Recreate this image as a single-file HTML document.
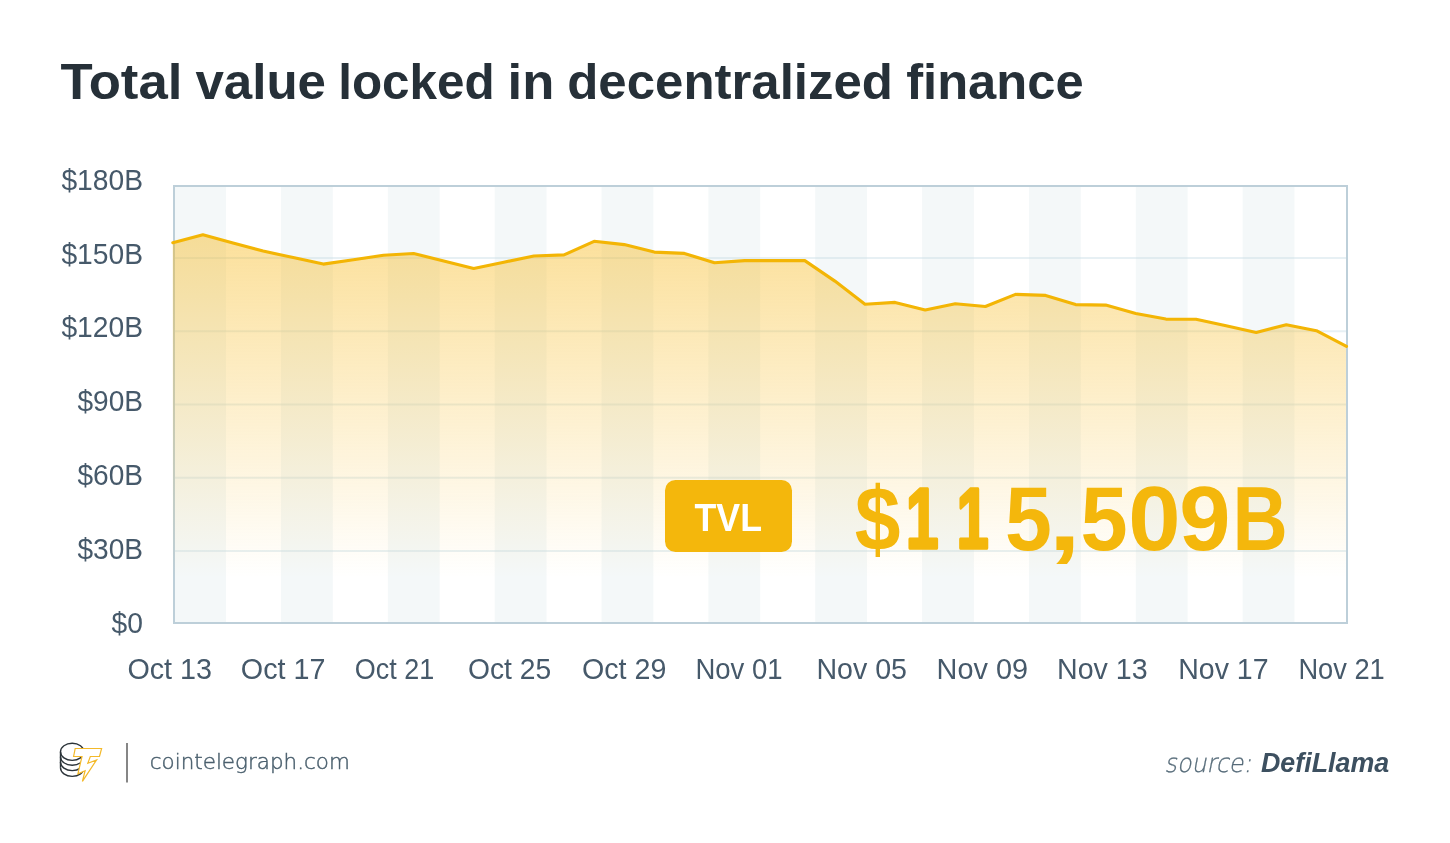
<!DOCTYPE html>
<html><head><meta charset="utf-8"><title>Total value locked in decentralized finance</title>
<style>
html,body{margin:0;padding:0;background:#ffffff;}
body{width:1450px;height:843px;overflow:hidden;position:relative;font-family:"Liberation Sans",Arial,sans-serif;}
svg{position:absolute;left:0;top:0;will-change:transform;}
</style></head><body>
<svg width="1450" height="843" viewBox="0 0 1450 843">
<defs>
<linearGradient id="fg" gradientUnits="userSpaceOnUse" x1="0" y1="186" x2="0" y2="578">
<stop offset="0" stop-color="#f7b81a" stop-opacity="0.5"/>
<stop offset="1" stop-color="#f7b81a" stop-opacity="0"/>
</linearGradient>
</defs>
<g font-family="Liberation Sans, Arial, sans-serif" font-weight="bold" font-size="50" fill="#263038"><text x="60.4" y="99" textLength="122.0" lengthAdjust="spacingAndGlyphs">Total</text> <text x="195.4" y="99" textLength="130.6" lengthAdjust="spacingAndGlyphs">value</text> <text x="338.2" y="99" textLength="156.6" lengthAdjust="spacingAndGlyphs">locked</text> <text x="507.6" y="99" textLength="46.8" lengthAdjust="spacingAndGlyphs">in</text> <text x="567.2" y="99" textLength="325.8" lengthAdjust="spacingAndGlyphs">decentralized</text> <text x="906.2" y="99" textLength="177.4" lengthAdjust="spacingAndGlyphs">finance</text></g>
<g><rect x="174.15" y="186" width="51.8" height="437" fill="#f4f8f9"/><rect x="281.00" y="186" width="51.8" height="437" fill="#f4f8f9"/><rect x="387.85" y="186" width="51.8" height="437" fill="#f4f8f9"/><rect x="494.70" y="186" width="51.8" height="437" fill="#f4f8f9"/><rect x="601.55" y="186" width="51.8" height="437" fill="#f4f8f9"/><rect x="708.40" y="186" width="51.8" height="437" fill="#f4f8f9"/><rect x="815.25" y="186" width="51.8" height="437" fill="#f4f8f9"/><rect x="922.10" y="186" width="51.8" height="437" fill="#f4f8f9"/><rect x="1028.95" y="186" width="51.8" height="437" fill="#f4f8f9"/><rect x="1135.80" y="186" width="51.8" height="437" fill="#f4f8f9"/><rect x="1242.65" y="186" width="51.8" height="437" fill="#f4f8f9"/></g>
<g><rect x="174" y="257.00" width="1173" height="2" fill="rgba(198,219,228,0.42)"/><rect x="174" y="330.25" width="1173" height="2" fill="rgba(198,219,228,0.42)"/><rect x="174" y="403.50" width="1173" height="2" fill="rgba(198,219,228,0.42)"/><rect x="174" y="476.75" width="1173" height="2" fill="rgba(198,219,228,0.42)"/><rect x="174" y="550.00" width="1173" height="2" fill="rgba(198,219,228,0.42)"/></g>
<rect x="174" y="186" width="1173" height="437" fill="none" stroke="#bdcfd9" stroke-width="2"/>
<path d="M172.8,623 L172.8,242.7 L202.9,234.7 L233.0,242.9 L263.1,251.1 L293.2,257.6 L323.3,264.1 L353.4,259.7 L383.5,255.3 L413.6,253.5 L443.7,260.9 L473.7,268.4 L503.8,262.2 L533.9,256.0 L564.0,254.9 L594.1,241.3 L624.2,244.6 L654.3,252.1 L684.4,253.4 L714.5,262.7 L744.6,260.6 L774.7,260.6 L804.8,260.6 L834.9,281.1 L865.0,304.2 L895.1,302.4 L925.2,309.9 L955.3,303.8 L985.4,306.5 L1015.5,294.4 L1045.6,295.4 L1075.6,304.6 L1105.7,305.1 L1135.8,313.4 L1165.9,319.1 L1196.0,319.2 L1226.1,325.8 L1256.2,332.4 L1286.3,324.7 L1316.4,330.7 L1346.0,346.0 L1346.0,623 Z" fill="url(#fg)"/>
<polyline points="172.8,242.7 202.9,234.7 233.0,242.9 263.1,251.1 293.2,257.6 323.3,264.1 353.4,259.7 383.5,255.3 413.6,253.5 443.7,260.9 473.7,268.4 503.8,262.2 533.9,256.0 564.0,254.9 594.1,241.3 624.2,244.6 654.3,252.1 684.4,253.4 714.5,262.7 744.6,260.6 774.7,260.6 804.8,260.6 834.9,281.1 865.0,304.2 895.1,302.4 925.2,309.9 955.3,303.8 985.4,306.5 1015.5,294.4 1045.6,295.4 1075.6,304.6 1105.7,305.1 1135.8,313.4 1165.9,319.1 1196.0,319.2 1226.1,325.8 1256.2,332.4 1286.3,324.7 1316.4,330.7 1346.5,346.3" fill="none" stroke="#f3b505" stroke-width="3.1" stroke-linejoin="round" stroke-linecap="round"/>
<g font-family="Liberation Sans, Arial, sans-serif" font-size="28.6" fill="#46596a"><text x="61.4" y="189.8" textLength="81.6" lengthAdjust="spacingAndGlyphs">$180B</text><text x="61.4" y="263.5" textLength="81.6" lengthAdjust="spacingAndGlyphs">$150B</text><text x="61.4" y="337.1" textLength="81.6" lengthAdjust="spacingAndGlyphs">$120B</text><text x="77.4" y="411.3" textLength="65.6" lengthAdjust="spacingAndGlyphs">$90B</text><text x="77.4" y="485.1" textLength="65.6" lengthAdjust="spacingAndGlyphs">$60B</text><text x="77.4" y="558.7" textLength="65.6" lengthAdjust="spacingAndGlyphs">$30B</text><text x="111.6" y="632.5" textLength="31.4" lengthAdjust="spacingAndGlyphs">$0</text></g>
<g font-family="Liberation Sans, Arial, sans-serif" font-size="29" fill="#46596a"><text x="127.4" y="679" textLength="84.6" lengthAdjust="spacingAndGlyphs">Oct 13</text><text x="240.8" y="679" textLength="84.6" lengthAdjust="spacingAndGlyphs">Oct 17</text><text x="354.8" y="679" textLength="79.4" lengthAdjust="spacingAndGlyphs">Oct 21</text><text x="468.0" y="679" textLength="83.2" lengthAdjust="spacingAndGlyphs">Oct 25</text><text x="582.0" y="679" textLength="84.4" lengthAdjust="spacingAndGlyphs">Oct 29</text><text x="695.4" y="679" textLength="87.2" lengthAdjust="spacingAndGlyphs">Nov 01</text><text x="816.4" y="679" textLength="90.6" lengthAdjust="spacingAndGlyphs">Nov 05</text><text x="936.6" y="679" textLength="91.4" lengthAdjust="spacingAndGlyphs">Nov 09</text><text x="1057.0" y="679" textLength="90.6" lengthAdjust="spacingAndGlyphs">Nov 13</text><text x="1178.2" y="679" textLength="90.4" lengthAdjust="spacingAndGlyphs">Nov 17</text><text x="1298.4" y="679" textLength="86.4" lengthAdjust="spacingAndGlyphs">Nov 21</text></g>
<rect x="665" y="480" width="127" height="72" rx="10.5" fill="#f4b70c"/>
<text x="694.5" y="531.4" font-family="Liberation Sans, Arial, sans-serif" font-weight="bold" font-size="39.5" fill="#ffffff" textLength="67.5" lengthAdjust="spacingAndGlyphs">TVL</text>
<text y="549.8" font-family="Liberation Sans, Arial, sans-serif" font-weight="bold" font-size="90.5" fill="#f4b70c"><tspan x="854.7" y="549.8" textLength="45.7" lengthAdjust="spacingAndGlyphs">$</tspan><tspan x="906.1" y="547.9" font-size="86.0" stroke="#f4b70c" stroke-width="3.6" stroke-linejoin="round" textLength="32.5" lengthAdjust="spacingAndGlyphs">1</tspan><tspan x="956.7" y="547.9" font-size="86.0" stroke="#f4b70c" stroke-width="3.6" stroke-linejoin="round" textLength="31.9" lengthAdjust="spacingAndGlyphs">1</tspan><tspan x="1004.9" y="549.8" textLength="46.9" lengthAdjust="spacingAndGlyphs">5</tspan><tspan x="1048.3" y="549.8" textLength="32.8" lengthAdjust="spacingAndGlyphs">,</tspan><tspan x="1080.5" y="549.8" textLength="47.2" lengthAdjust="spacingAndGlyphs">5</tspan><tspan x="1128.2" y="549.8" textLength="52.3" lengthAdjust="spacingAndGlyphs">0</tspan><tspan x="1179.2" y="549.8" textLength="51.3" lengthAdjust="spacingAndGlyphs">9</tspan><tspan x="1232.4" y="549.8" textLength="55.3" lengthAdjust="spacingAndGlyphs">B</tspan></text>
<line x1="127" y1="743" x2="127" y2="782.5" stroke="#868686" stroke-width="2"/>
<text x="149.8" y="769" font-family="DejaVu Sans, sans-serif" font-weight="200" font-size="21.8" fill="#4a5f6d" stroke="#4a5f6d" stroke-width="0.45" textLength="200" lengthAdjust="spacingAndGlyphs">cointelegraph.com</text>
<g transform="translate(1164.6,772.3) skewX(-11)"><text x="0" y="0" font-family="DejaVu Sans, sans-serif" font-weight="200" font-size="26" fill="#566b79" stroke="#566b79" stroke-width="0.3" textLength="86.9" lengthAdjust="spacingAndGlyphs">source:</text></g>
<text x="1261" y="772.3" font-family="Liberation Sans, Arial, sans-serif" font-size="27.5" font-style="italic" font-weight="bold" fill="#3d5060" textLength="128.2" lengthAdjust="spacingAndGlyphs">DefiLlama</text>
<g fill="none" stroke="#2b3339" stroke-width="1.4">
<ellipse cx="72.2" cy="751.8" rx="11.7" ry="8.6"/>
<path d="M60.5,751.8 V767.8"/>
<path d="M60.5,756.7 A11.7,8.6 0 0 0 83.9,756.7"/>
<path d="M60.5,762 A11.7,8.6 0 0 0 83.9,762"/>
<path d="M60.5,767.8 A11.7,8.6 0 0 0 83.9,767.8"/>
</g>
<path d="M75.2,748.5 L101.6,748.5 L99.5,756.5 L90.3,756.5 L87.8,763.3 L96.6,759.9 L82.4,781.3 L85.1,770.7 L77.9,773.9 L82,756.5 L73.6,756.5 Z" fill="#ffffff" stroke="#f3b92a" stroke-width="1.2" stroke-linejoin="miter"/>
</svg>
</body></html>
